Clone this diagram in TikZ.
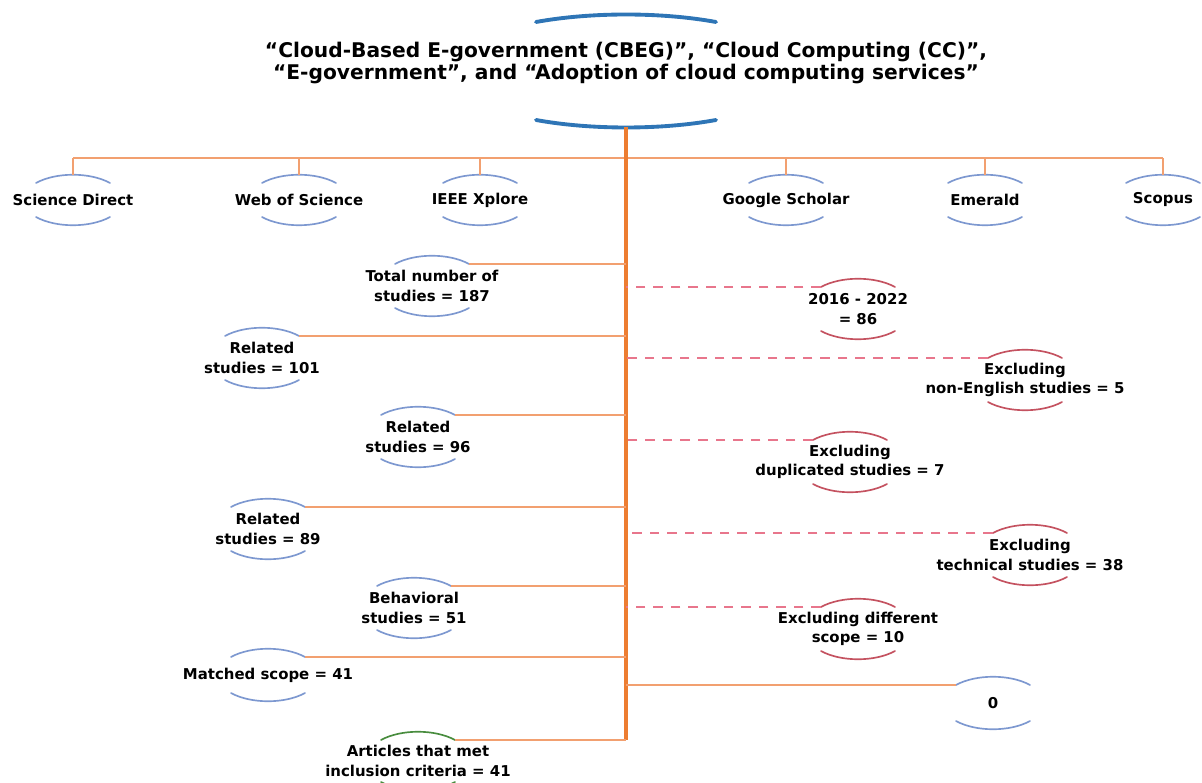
\documentclass[tikz,border=0pt]{standalone}
\usepackage{fontspec}
\setmainfont{DejaVu Sans}
\definecolor{arcblue}{RGB}{125,152,208}
\definecolor{arcred}{RGB}{196,82,96}
\definecolor{arcgreen}{RGB}{72,140,62}
\definecolor{titleblue}{RGB}{46,117,182}
\definecolor{trunkorange}{RGB}{237,125,49}
\definecolor{branchorange}{RGB}{242,160,112}
\definecolor{dashred}{RGB}{232,118,140}
\begin{document}
\begin{tikzpicture}[x=0.02cm,y=-0.02cm,
  lbl/.style={font=\fontsize{8.5}{11}\selectfont\bfseries, align=center, inner sep=1pt},
  ttl/.style={font=\fontsize{11.5}{12}\selectfont\bfseries, align=center, inner sep=1pt},
  lensline/.style={line width=0.95pt, line cap=round},
  bar/.style={draw=branchorange, line width=1.2pt},
  trunk/.style={draw=trunkorange, line width=1.8pt},
  branch/.style={draw=branchorange, line width=1.2pt},
  excl/.style={draw=dashred, line width=1.2pt, dash pattern=on 5.5pt off 4.5pt}]
\useasboundingbox (0,0) rectangle (1202,783);
\node[ttl] (title) at (626,63) {“Cloud-Based E-government (CBEG)”, “Cloud Computing (CC)”,\\“E-government”, and “Adoption of cloud computing services”};
\draw[titleblue, line width=2.2pt, line cap=round] ([shift={(-90,-41)}]title.center) .. controls +(55,-10) and +(-55,-10) .. +(180,0);
\draw[titleblue, line width=2.2pt, line cap=round] ([shift={(-90,57)}]title.center) .. controls +(55,10) and +(-55,10) .. +(180,0);
\coordinate (trunk) at ([shift={(0,64)}]title.center);
\coordinate (bar) at (626,158);
\foreach \n/\x/\t in {sd/73/Science Direct, wos/299/Web of Science, ieee/480/IEEE Xplore, gs/786/Google Scholar, em/985/Emerald, sc/1163/Scopus}
  \node[lbl] (\n) at (\x,200) {\t};
\node[lbl] (total) at (432,286) {Total number of\\studies = 187};
\node[lbl] (rel101) at (262,358) {Related\\studies = 101};
\node[lbl] (rel96) at (418,437) {Related\\studies = 96};
\node[lbl] (rel89) at (268,529) {Related\\studies = 89};
\node[lbl] (beh) at (414,608) {Behavioral\\studies = 51};
\node[lbl] (matched) at (268,675) {Matched scope = 41};
\node[lbl] (articles) at (418,761) {Articles that met\\inclusion criteria = 41};
\node[lbl] (yrs) at (858,309) {2016 - 2022\\= 86};
\node[lbl] (noneng) at (1025,380) {Excluding\\non-English studies = 5};
\node[lbl] (dup) at (850,462) {Excluding\\duplicated studies = 7};
\node[lbl] (tech) at (1030,555) {Excluding\\technical studies = 38};
\node[lbl] (scope) at (858,629) {Excluding different\\scope = 10};
\node[lbl] (zero) at (993,703) {0};
\foreach \n/\c/\h in {sd/arcblue/17, wos/arcblue/17, ieee/arcblue/17, gs/arcblue/17, em/arcblue/17, sc/arcblue/17,
  total/arcblue/22, rel101/arcblue/22, rel96/arcblue/22, rel89/arcblue/22, beh/arcblue/22, matched/arcblue/18, articles/arcgreen/21,
  yrs/arcred/22, noneng/arcred/22, dup/arcred/22, tech/arcred/22, scope/arcred/22, zero/arcblue/18}
{
  \coordinate (\n-tl) at ([shift={(-37,-\h)}]\n.center);
  \coordinate (\n-tr) at ([shift={(37,-\h)}]\n.center);
  \draw[lensline, \c] (\n-tl) .. controls +(20,-11) and +(-20,-11) .. (\n-tr);
  \draw[lensline, \c] ([shift={(-37,\h)}]\n.center) .. controls +(20,11) and +(-20,11) .. +(74,0);
}
\draw[bar] (sd |- bar) -- (sc |- bar);
\foreach \n in {sd,wos,ieee,gs,em,sc} \draw[bar] (\n |- bar) -- ([shift={(0,-25)}]\n.center);
\draw[trunk] (trunk) -- (articles-tr -| trunk);
\foreach \n in {total,rel101,rel96,rel89,beh,matched,articles} \draw[branch] (\n-tr) -- (\n-tr -| trunk);
\draw[branch] (zero-tl) -- (zero-tl -| trunk);
\foreach \n in {yrs,noneng,dup,tech,scope} \draw[excl] (\n-tl) -- (\n-tl -| trunk);
\end{tikzpicture}
\end{document}
